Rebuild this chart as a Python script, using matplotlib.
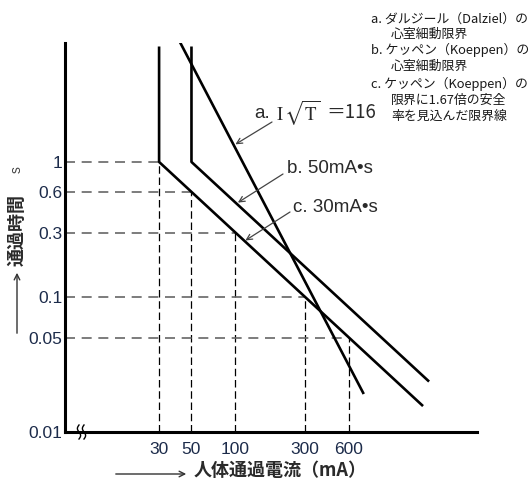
import matplotlib.pyplot as plt
import numpy as np

# limit lines (current mA, time s)
dalziel_current = [42, 750]
dalziel_time = [7.6, 0.0195]
koeppen_current = [50, 50, 2090]
koeppen_time = [7.0, 1, 0.024]
safe_current = [30, 30, 1900]
safe_time = [7.0, 1, 0.0158]

# dashed guide points on line c
guide_current = [30, 50, 100, 300, 600]
guide_time = [1, 0.6, 0.3, 0.1, 0.05]

x_ticks = [30, 50, 100, 300, 600]
x_tick_labels = ["30", "50", "100", "300", "600"]
y_ticks = [0.01, 0.05, 0.1, 0.3, 0.6, 1]
y_tick_labels = ["0.01", "0.05", "0.1", "0.3", "0.6", "1"]

notes = [
    "a. ダルジール（Dalziel）の",
    "心室細動限界",
    "b. ケッペン（Koeppen）の",
    "心室細動限界",
    "c. ケッペン（Koeppen）の",
    "限界に1.67倍の安全",
    "率を見込んだ限界線",
]

W, H = 531, 479
JP = ["Noto Sans CJK JP", "DejaVu Sans"]
NUM = ["Liberation Sans", "DejaVu Sans"]
TXT = "#2a2a2a"
TICK = "#1c2b4a"


def fp(x, y):
    # pixel position (top-left origin) -> figure fraction
    return (x / W, 1 - y / H)


def main():
    fig = plt.figure(figsize=(W / 100, H / 100), dpi=100)
    ax = fig.add_axes([65 / W, 1 - 432 / H, (477 - 65) / W, (432 - 43) / H])
    ax.set_xscale("log")
    ax.set_yscale("log")
    ax.set_xlim(6.8, 4520)
    ax.set_ylim(0.01, 7.6)

    for s in ["top", "right"]:
        ax.spines[s].set_visible(False)
    for s in ["left", "bottom"]:
        ax.spines[s].set_linewidth(2.2)

    ax.minorticks_off()
    ax.set_xticks(x_ticks)
    ax.set_xticklabels(x_tick_labels)
    ax.set_yticks(y_ticks)
    ax.set_yticklabels(y_tick_labels)
    ax.tick_params(axis="x", length=0, pad=7, labelsize=12.5, labelcolor=TICK)
    ax.tick_params(axis="y", length=0, pad=2, labelsize=12.5, labelcolor=TICK)
    for lab in ax.get_xticklabels() + ax.get_yticklabels():
        lab.set_family(NUM)

    # guides
    x0 = ax.get_xlim()[0]
    y0 = ax.get_ylim()[0]
    for c, t in zip(guide_current, guide_time):
        ax.plot([x0, c], [t, t], color="#666666", lw=1.2, ls=(0, (6, 4)), zorder=1)
        ax.plot([c, c], [y0, t], color="black", lw=0.9, ls=(0, (6, 3)), zorder=1)

    ax.plot(dalziel_current, dalziel_time, color="black", lw=1.9, zorder=3)
    ax.plot(koeppen_current, koeppen_time, color="black", lw=1.9, zorder=3)
    ax.plot(safe_current, safe_time, color="black", lw=1.9, zorder=3)

    # labels with arrows
    arrow = dict(arrowstyle="->", color="#444444", lw=0.9, shrinkA=0, shrinkB=0)
    ax.annotate("", xy=(100, 1.35), xytext=fp(272, 122), textcoords="figure fraction", arrowprops=arrow)
    ax.annotate("", xy=(104, 0.5), xytext=fp(283, 174), textcoords="figure fraction", arrowprops=arrow)
    ax.annotate("", xy=(117, 0.262), xytext=fp(290, 212), textcoords="figure fraction", arrowprops=arrow)

    fig.text(*fp(254, 113), "a.", fontsize=13.5, color=TXT, va="center", ha="left", family=NUM)
    fig.text(*fp(276, 113), r"$\mathrm{I}\,\sqrt{\mathrm{T}}$", fontsize=13.5,
             color=TXT, va="center", ha="left", math_fontfamily="stix")
    fig.text(*fp(326, 113), "＝116", fontsize=13.5, color=TXT, va="center", ha="left",
             family=["Noto Sans CJK JP"])
    fig.text(*fp(287, 168), "b. 50mA•s", fontsize=13.5, color=TXT, va="center", ha="left", family=NUM)
    fig.text(*fp(293, 207), "c. 30mA•s", fontsize=13.5, color=TXT, va="center", ha="left", family=NUM)

    # notes top right
    rows_y = [19, 34, 50, 66, 84, 100, 116]
    for txt, y in zip(notes, rows_y):
        x = 371 if txt[:2] in ("a.", "b.", "c.") else 391
        fig.text(*fp(x, y), txt, fontsize=9.3, color="#1a1a1a",
                 va="center", ha="left", family=JP)

    # y label
    fig.text(*fp(17, 230), "通過時間", rotation=90, fontsize=13, fontweight="bold",
             color=TXT, va="center", ha="center", family=JP)
    fig.text(*fp(17, 170), "s", rotation=90, fontsize=10, color="#444444",
             va="center", ha="center", family=NUM)
    ax.annotate("", xy=fp(17, 270), xytext=fp(17, 336), xycoords="figure fraction",
                textcoords="figure fraction", arrowprops=dict(arrowstyle="->", color="#333333", lw=1.0))

    # x label
    fig.text(*fp(194, 470), "人体通過電流（mA）", fontsize=13, fontweight="bold",
             color=TXT, va="center", ha="left", family=JP)
    ax.annotate("", xy=fp(189, 474), xytext=fp(113, 474), xycoords="figure fraction",
                textcoords="figure fraction", arrowprops=dict(arrowstyle="->", color="#333333", lw=1.0))

    # axis break marks
    tt = np.linspace(-1, 1, 30)
    for off in [0, 5]:
        xs = 79 + off + 1.6 * np.sin(tt * np.pi)
        ys = 432 + 7 * tt
        fx, fy = fp(xs, ys)
        fig.add_artist(plt.Line2D(fx, fy, color="black", lw=1.0))

    fig.savefig("out.png", dpi=100)


if __name__ == "__main__":
    main()
